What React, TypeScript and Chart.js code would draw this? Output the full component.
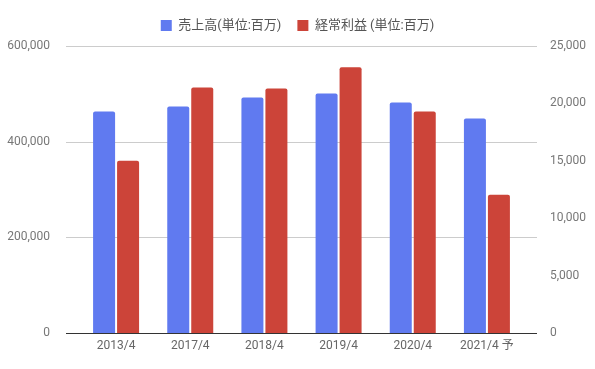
import React, { useEffect, useRef } from "react";
import { Chart, registerables } from "chart.js";

Chart.register(...registerables);

const categories = ["2013/4", "2017/4", "2018/4", "2019/4", "2020/4", "2021/4 予"];
const salesValues = [463000, 473500, 492400, 500800, 481900, 448300];
const profitValues = [15010, 21390, 21300, 23140, 19290, 12040];
const salesLabel = "売上高(単位:百万)";
const profitLabel = "経常利益 (単位:百万)";
const leftTicks = [0, 200000, 400000, 600000];
const rightTicks = [0, 5000, 10000, 15000, 20000, 25000];

const FONT = "Roboto, 'Noto Sans CJK JP', sans-serif";
const fmt = (v: number) => Number(v).toLocaleString("en-US");

const extGrid = {
  id: "extGrid",
  beforeLayout(chart: any) {
    const lg = chart.legend;
    if (lg && !lg._patched) {
      lg._patched = true;
      const orig = lg.fit;
      lg.fit = function () {
        orig.call(this);
        this.height += 4;
      };
    }
  },
  beforeDatasetsDraw(chart: any) {
    const { ctx, chartArea, scales } = chart;
    const y = scales.yL;
    ctx.save();
    ctx.strokeStyle = "#cccccc";
    ctx.lineWidth = 1;
    y.ticks.forEach((t: any) => {
      if (t.value === 0) return;
      const py = Math.round(y.getPixelForValue(t.value)) + 0.5;
      ctx.beginPath();
      ctx.moveTo(chartArea.left - 13, py);
      ctx.lineTo(chartArea.right + 13, py);
      ctx.stroke();
    });
    ctx.restore();
  },
  afterDatasetsDraw(chart: any) {
    const { ctx, chartArea, scales } = chart;
    const py = Math.round(scales.yL.getPixelForValue(0)) + 0.5;
    ctx.save();
    ctx.strokeStyle = "#333333";
    ctx.lineWidth = 1;
    ctx.beginPath();
    ctx.moveTo(chartArea.left - 13, py);
    ctx.lineTo(chartArea.right + 13, py);
    ctx.stroke();
    ctx.restore();
  },
};

export default function App() {
  const ref = useRef<HTMLCanvasElement | null>(null);

  useEffect(() => {
    document.body.style.margin = "0";
    const canvas = ref.current;
    if (!canvas) return;
    const chart = new Chart(canvas, {
      type: "bar",
      data: {
        labels: categories,
        datasets: [
          {
            label: salesLabel,
            data: salesValues,
            backgroundColor: "#607af0",
            yAxisID: "yL",
            borderRadius: 2,
            borderSkipped: "start",
          },
          {
            label: profitLabel,
            data: profitValues,
            backgroundColor: "#cc4439",
            yAxisID: "yR",
            borderRadius: 2,
            borderSkipped: "start",
          },
        ],
      },
      options: {
        responsive: false,
        animation: false,
        devicePixelRatio: 1,
        categoryPercentage: 0.647,
        barPercentage: 0.917,
        layout: { padding: { top: 3, left: 0, right: 0, bottom: 0 } },
        plugins: {
          legend: {
            position: "top",
            align: "center",
            labels: {
              boxWidth: 11,
              boxHeight: 11,
              padding: 16,
              color: "#555555",
              font: { family: FONT, size: 13 },
            },
          },
          tooltip: { enabled: false },
        },
        scales: {
          x: {
            grid: { display: false },
            border: { display: false },
            ticks: {
              color: "#666666",
              padding: -2,
              font: { family: FONT, size: 12 },
              maxRotation: 0,
            },
            afterFit: (s: any) => {
              s.height = 36;
            },
          },
          yL: {
            position: "left",
            min: 0,
            max: 600000,
            grid: { display: false },
            border: { display: false },
            afterBuildTicks: (s: any) => {
              s.ticks = leftTicks.map((v) => ({ value: v }));
            },
            ticks: {
              color: "#777777",
              padding: 21,
              font: { family: FONT, size: 12 },
              callback: (v: any) => fmt(v),
            },
            afterFit: (s: any) => {
              s.width = 79;
            },
          },
          yR: {
            position: "right",
            min: 0,
            max: 25000,
            grid: { display: false },
            border: { display: false },
            afterBuildTicks: (s: any) => {
              s.ticks = rightTicks.map((v) => ({ value: v }));
            },
            ticks: {
              color: "#777777",
              padding: 18,
              font: { family: FONT, size: 12 },
              callback: (v: any) => fmt(v),
            },
            afterFit: (s: any) => {
              s.width = 71;
            },
          },
        },
      },
      plugins: [extGrid],
    });
    return () => chart.destroy();
  }, []);

  return (
    <div style={{ width: 595, height: 369, background: "#ffffff" }}>
      <canvas ref={ref} width={595} height={369} style={{ display: "block" }} />
    </div>
  );
}
